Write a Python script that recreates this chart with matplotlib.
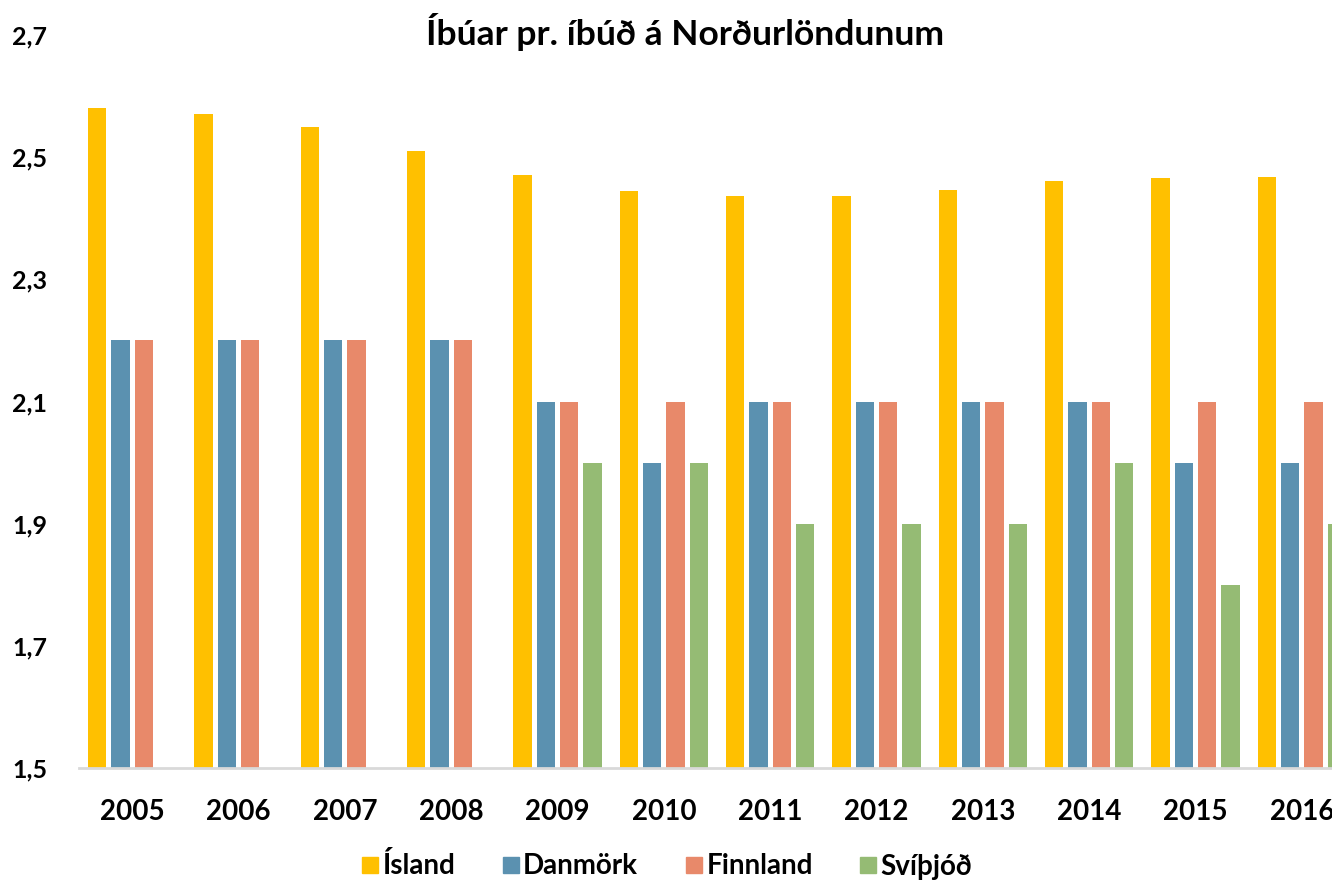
import numpy as np
import matplotlib.pyplot as plt
from matplotlib.lines import Line2D

plt.rcParams['font.family'] = ['Lato', 'DejaVu Sans']

years = ['2005', '2006', '2007', '2008', '2009', '2010',
         '2011', '2012', '2013', '2014', '2015', '2016']
island = [2.58, 2.57, 2.55, 2.51, 2.47, 2.445, 2.436, 2.437, 2.446, 2.461, 2.466, 2.468]
danmork = [2.2, 2.2, 2.2, 2.2, 2.1, 2.0, 2.1, 2.1, 2.1, 2.1, 2.0, 2.0]
finnland = [2.2, 2.2, 2.2, 2.2, 2.1, 2.1, 2.1, 2.1, 2.1, 2.1, 2.1, 2.1]
svithjod = [np.nan, np.nan, np.nan, np.nan, 2.0, 2.0, 1.9, 1.9, 1.9, 2.0, 1.8, 1.9]

series = [("Ísland", island, "#FFC000"),
          ("Danmörk", danmork, "#5B91B0"),
          ("Finnland", finnland, "#E8896A"),
          ("Svíþjóð", svithjod, "#95BB74")]

fig = plt.figure(figsize=(13.32, 8.81), dpi=100)
ax = fig.add_axes([79 / 1332, 113 / 881, 1276 / 1332, 733 / 881])

x = np.arange(len(years))
slot = 0.219
width = 0.172
for i, (name, vals, col) in enumerate(series):
    ax.bar(x + (i - 1.5) * slot, np.array(vals) - 1.5, width, bottom=1.5, color=col)

ax.set_xlim(-0.5, len(years) - 0.5)
ax.set_ylim(1.5, 2.7)
yt = [1.5, 1.7, 1.9, 2.1, 2.3, 2.5, 2.7]
ax.set_yticks(yt)
ax.set_yticklabels([f"{v:.1f}".replace('.', ',') for v in yt], fontsize=18, fontweight='bold')
ax.set_xticks(x)
ax.set_xticklabels(years, fontsize=20, fontweight='bold')
ax.tick_params(axis='both', length=0)
ax.tick_params(axis='y', pad=23)
ax.tick_params(axis='x', pad=22)
for s in ['top', 'right', 'left']:
    ax.spines[s].set_visible(False)
ax.spines['bottom'].set_color('#D9D9D9')
ax.spines['bottom'].set_linewidth(2)

fig.text(685 / 1332, 1 - 32 / 881, "Íbúar pr. íbúð á Norðurlöndunum",
         ha='center', va='center', fontsize=25.5, fontweight='bold')

handles = [Line2D([], [], marker='s', linestyle='', markersize=11,
                  markerfacecolor=col, markeredgecolor=col, label=name)
           for name, _, col in series]
fig.legend(handles=handles, loc='center', bbox_to_anchor=(667 / 1332, 1 - 866 / 881),
           ncol=4, frameon=False, handlelength=0.6, handletextpad=0.15, columnspacing=1.7,
           prop={'weight': 'bold', 'size': 20})

fig.savefig("out.png", dpi=100)
